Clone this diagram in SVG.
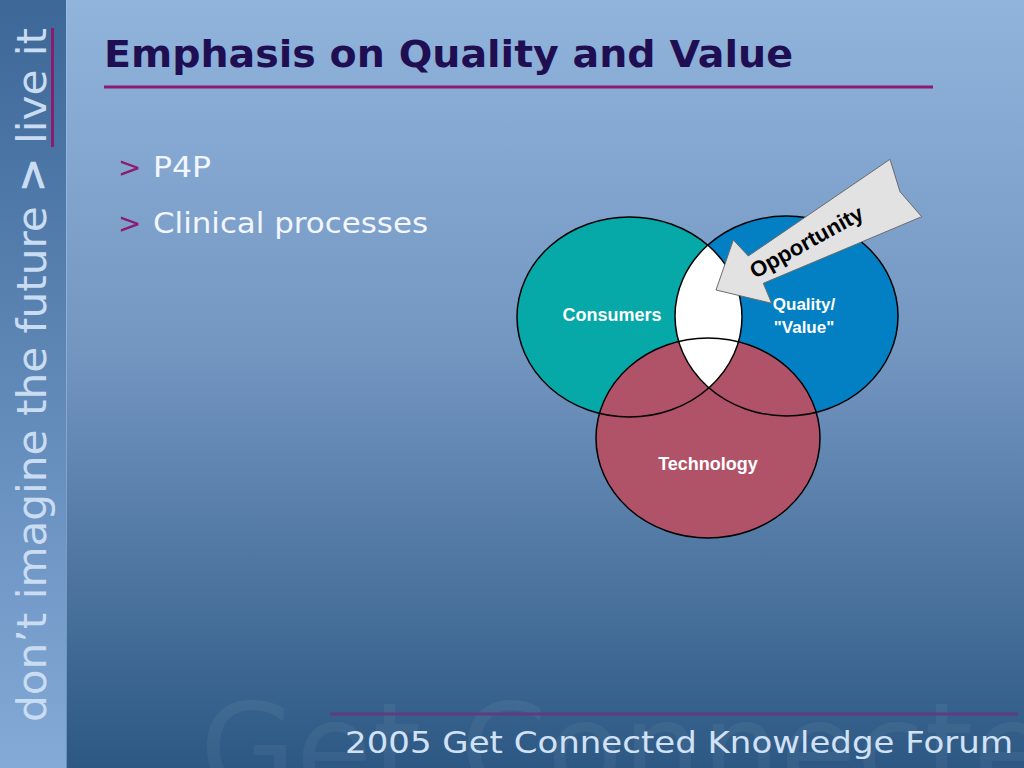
<svg xmlns="http://www.w3.org/2000/svg" width="1024" height="768" viewBox="0 0 1024 768">
<style>
.side{font-family:"DejaVu Sans",Verdana,sans-serif;font-size:40px;fill:#c9dcf2}
.title{font-family:"DejaVu Sans",Verdana,sans-serif;font-size:38px;font-weight:bold;fill:#1f0f52}
.bul{font-family:"DejaVu Sans",Verdana,sans-serif;font-size:28px;fill:#f2f6ff}
.gt{fill:#8c1a70}
.lbl{font-family:"Liberation Sans",Arial,sans-serif;font-size:18px;font-weight:bold;fill:#ffffff;text-anchor:middle}
.lbl2{font-family:"Liberation Sans",Arial,sans-serif;font-size:17px;font-weight:bold;fill:#ffffff;text-anchor:middle}
.foot{font-family:"DejaVu Sans",Verdana,sans-serif;font-size:30px;fill:#d2e2f6}
.ring{fill:none;stroke:#000;stroke-width:1.5}
</style>
<defs>
<linearGradient id="bg" x1="0" y1="0" x2="0" y2="1">
<stop offset="0" stop-color="#90b4dc"/>
<stop offset="0.45" stop-color="#7497c2"/>
<stop offset="1" stop-color="#2c5883"/>
</linearGradient>
<linearGradient id="sb" x1="0" y1="0" x2="0" y2="1">
<stop offset="0" stop-color="#3c6797"/>
<stop offset="1" stop-color="#84aad7"/>
</linearGradient>
<clipPath id="cons"><ellipse cx="629.5" cy="317" rx="112.5" ry="100"/></clipPath>
</defs>
<rect x="0" y="0" width="1024" height="768" fill="url(#bg)"/>
<text x="200" y="792" font-family="DejaVu Sans,Verdana,sans-serif" font-size="124" fill="#ffffff" fill-opacity="0.05">Get Connected</text>
<rect x="0" y="0" width="66" height="768" fill="url(#sb)"/>
<line x1="66.5" y1="0" x2="66.5" y2="768" stroke="#a8c4e4" stroke-opacity="0.5" stroke-width="1"/>
<g id="sidebar">
<text class="side" transform="translate(46,722) rotate(-90)" textLength="694" lengthAdjust="spacingAndGlyphs">don’t imagine the future <tspan font-weight="bold">&gt;</tspan> live it</text>
<line x1="52.5" y1="28" x2="52.5" y2="147" stroke="#8c1a6e" stroke-width="3"/>
</g>
<g id="title">
<text class="title" x="104" y="67" textLength="689" lengthAdjust="spacingAndGlyphs">Emphasis on Quality and Value</text>
<line x1="104" y1="87" x2="933" y2="87" stroke="#8c1a70" stroke-width="3"/>
</g>
<g id="bullets">
<text class="bul" x="118" y="177"><tspan class="gt">&gt;</tspan></text>
<text class="bul" x="153" y="177" textLength="58" lengthAdjust="spacingAndGlyphs">P4P</text>
<text class="bul" x="118" y="233"><tspan class="gt">&gt;</tspan></text>
<text class="bul" x="153" y="233" textLength="275" lengthAdjust="spacingAndGlyphs">Clinical processes</text>
</g>
<g id="venn">
<g id="consumers">
<ellipse cx="629.5" cy="317" rx="112.5" ry="100" fill="#06a8a8"/>
</g>
<g id="quality">
<ellipse cx="786.5" cy="316" rx="111.5" ry="100" fill="#0380c3"/>
</g>
<g id="technology">
<ellipse cx="708" cy="438" rx="112" ry="100" fill="#b05268"/>
</g>
<ellipse cx="786.5" cy="316" rx="111.5" ry="100" fill="#ffffff" clip-path="url(#cons)"/>
<ellipse class="ring" cx="629.5" cy="317" rx="112.5" ry="100"/>
<ellipse class="ring" cx="786.5" cy="316" rx="111.5" ry="100"/>
<ellipse class="ring" cx="708" cy="438" rx="112" ry="100"/>
<text class="lbl" x="612" y="321">Consumers</text>
<text class="lbl2" x="804" y="310">Quality/</text>
<text class="lbl2" x="804" y="333">"Value"</text>
<text class="lbl" x="708" y="470">Technology</text>
</g>
<g id="opportunity">
<polygon points="716,290 733.3,240 748.3,256 890,159.3 900,191.7 921.7,216.7 763.3,283.3 771.7,303.3" fill="#e2e2e2" stroke="#6b6b6b" stroke-width="1"/>
<text x="0" y="0" transform="translate(755,279) rotate(-29)" font-family="Liberation Sans,Arial,sans-serif" font-size="22" font-weight="bold" fill="#000">Opportunity</text>
</g>
<g id="footer">
<line x1="330" y1="714" x2="1018" y2="714" stroke="#5e3b82" stroke-width="3"/>
<text class="foot" x="345" y="753" textLength="668" lengthAdjust="spacingAndGlyphs">2005 Get Connected Knowledge Forum</text>
</g>
</svg>
